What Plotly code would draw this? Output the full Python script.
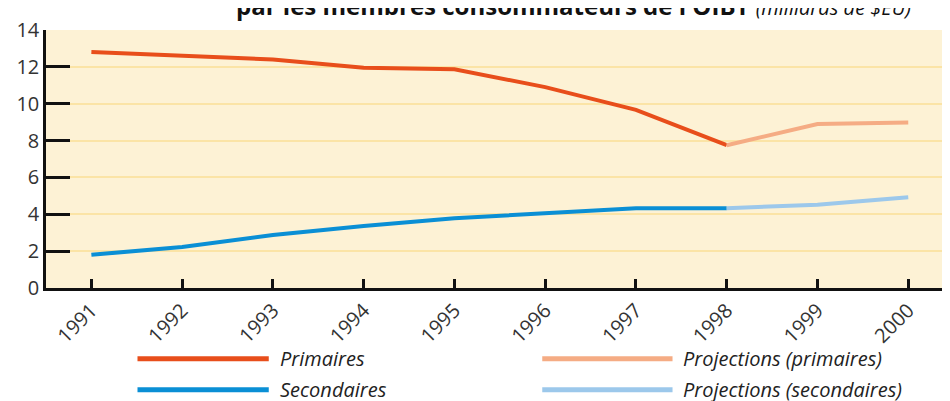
import plotly.graph_objects as go

years = [1991, 1992, 1993, 1994, 1995, 1996, 1997, 1998, 1999, 2000]
primaires = [12.8, 12.6, 12.4, 11.95, 11.87, 10.9, 9.67, 7.75]
proj_primaires = [7.75, 8.9, 8.98]
secondaires = [1.8, 2.23, 2.87, 3.37, 3.78, 4.07, 4.33, 4.33]
proj_secondaires = [4.33, 4.52, 4.92]

legend_labels = ["Primaires", "Secondaires", "Projections (primaires)", "Projections (secondaires)"]
colors = ["#E84E1B", "#0A8FD5", "#F5AC84", "#9CC8EB"]

# the page body adds an 8px margin, so plot edges are placed 8px earlier
OFF = 8
W, H = 950, 401
L, R, T, B = 41 - OFF, OFF, 22 - OFF, H - 288 + OFF
pw, ph = W - L - R, H - T - B


def px(x):
    return (x - OFF - L) / pw


def py(y):
    return (T + ph - (y - OFF)) / ph


fig = go.Figure()
series = [
    (years[:8], primaires, colors[0]),
    (years[:8], secondaires, colors[1]),
    (years[7:], proj_primaires, colors[2]),
    (years[7:], proj_secondaires, colors[3]),
]
for xs, ys, c in series:
    fig.add_trace(go.Scatter(x=xs, y=ys, mode="lines", line=dict(color=c, width=4),
                             showlegend=False, hoverinfo="skip"))

# hand-made legend, long line samples like the original
legend_pos = [(133, 265, 361), (133, 265, 393), (540, 671, 361), (540, 671, 393)]
for (x0, x1, yy), lab, c in zip(legend_pos, legend_labels, colors):
    fig.add_shape(type="line", xref="paper", yref="paper",
                  x0=px(x0), x1=px(x1), y0=py(yy), y1=py(yy),
                  line=dict(color=c, width=5))
    fig.add_annotation(xref="paper", yref="paper", x=px(x1 + 9), y=py(yy),
                       xanchor="left", yanchor="middle", showarrow=False,
                       text=f"<i>{lab}</i>",
                       font=dict(family="Open Sans", size=20, color="#222"))

fig.add_annotation(xref="paper", yref="paper", x=px(571), y=1, yshift=6,
                   xanchor="center", yanchor="bottom", showarrow=False,
                   text="<b>par les membres consommateurs de l'OIBT</b> "
                        "<i><span style='font-size:20px'>(milliards de $EU)</span></i>",
                   font=dict(family="Open Sans", size=24, color="#111"))

fig.update_xaxes(range=[1990.5, 2000.46], tickvals=years, tickangle=-45,
                 ticks="inside", ticklen=9, tickwidth=2.5, tickcolor="#111",
                 showline=True, linecolor="#111", linewidth=2.5,
                 showgrid=False, zeroline=False,
                 tickfont=dict(family="Open Sans", size=20, color="#333"))
fig.update_yaxes(range=[0, 14], dtick=2, ticks="inside", ticklen=24,
                 tickwidth=2.5, tickcolor="#111",
                 showline=True, linecolor="#111", linewidth=2.5,
                 gridcolor="#FBE4A6", gridwidth=2, zeroline=False,
                 tickfont=dict(family="Open Sans", size=20, color="#333"))
fig.update_layout(width=W, height=H, margin=dict(l=L, r=R, t=T, b=B),
                  plot_bgcolor="#FDF2D5", paper_bgcolor="white")
fig.write_html("out.html")
